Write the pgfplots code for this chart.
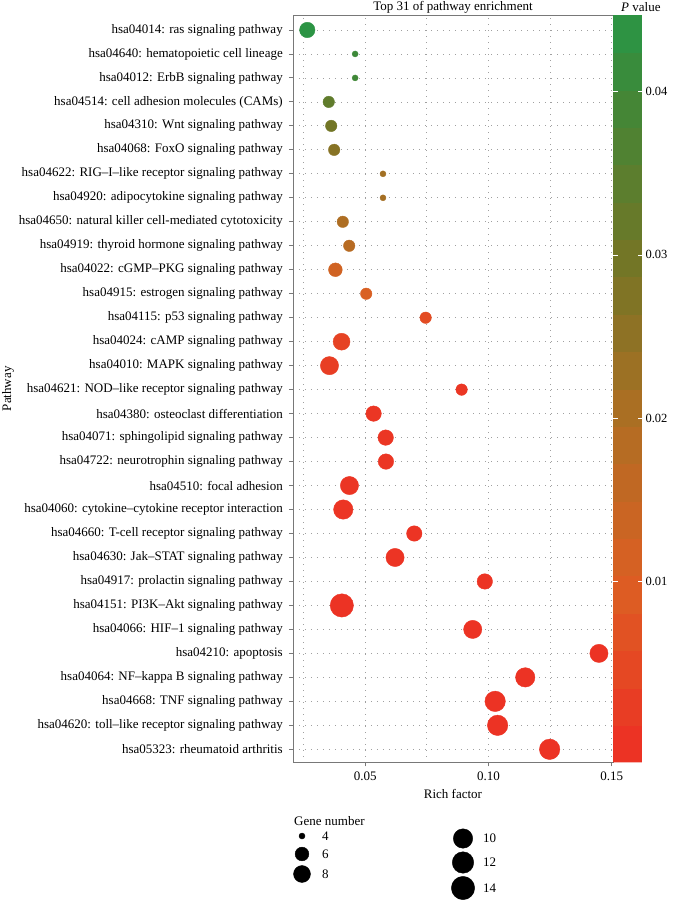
\documentclass[border=0pt]{standalone}
\usepackage{fontspec}
\setmainfont{Liberation Serif}
\usepackage{pgfplots}
\usepackage{pgfplotstable}
\pgfplotsset{compat=1.18}
\definecolor{framegray}{RGB}{120,120,120}
\definecolor{gridgray}{RGB}{160,160,160}
\pgfplotsset{colormap={pval}{rgb255(0cm)=(238,46,36) rgb255(11cm)=(220,95,35) rgb255(21cm)=(175,110,35) rgb255(31cm)=(115,118,38) rgb255(41cm)=(65,135,55) rgb255(46cm)=(40,150,70)}}
\pgfplotstableread{
y x n p
31 0.0265 7 0.0440
30 0.0459 4 0.0405
29 0.0459 4 0.0400
28 0.0352 5 0.0335
27 0.0362 5 0.0300
26 0.0374 5 0.0265
25 0.0572 4 0.0220
24 0.0572 4 0.0215
23 0.0409 5 0.0200
22 0.0435 5 0.0180
21 0.0379 6 0.0125
20 0.0504 5 0.0105
19 0.0745 5 0.0055
18 0.0404 8 0.0035
17 0.0355 9 0.0025
16 0.0891 5 0.0010
15 0.0534 7 0.0008
14 0.0583 7 0.0007
13 0.0584 7 0.0006
12 0.0436 9 0.0005
11 0.0411 10 0.0004
10 0.0699 7 0.0003
9 0.0621 9 0.0003
8 0.0985 7 0.0002
7 0.0405 14 0.0001
6 0.0936 9 0.0001
5 0.1448 9 0.00005
4 0.1149 10 0.00003
3 0.1027 11 0.00002
2 0.1037 11 0.00001
1 0.1248 11 0.00001
}\datatable
\pgfplotstableread{
x y n
302 836 4
302 854 6
302 874 8
463 838.5 10
463 862.5 12
463 888 14
}\legtable
\begin{document}
\begin{tikzpicture}
\path[use as bounding box] (0,0) rectangle (677pt,900pt);
\begin{axis}[
  name=main,
  scale only axis, width=320pt, height=747.5pt,
  at={(293pt,137.5pt)}, anchor=south west,
  font=\fontsize{13}{15}\selectfont,
  xmin=0.0207, xmax=0.1505,
  ymin=0.45, ymax=31.625,
  xtick={0.05,0.10,0.15},
  xticklabels={0.05,0.10,0.15},
  minor xtick={0.025,0.075,0.125},
  ytick={1,...,31},
  yticklabels={
    {hsa05323: rheumatoid arthritis},
    {hsa04620: toll–like receptor signaling pathway},
    {hsa04668: TNF signaling pathway},
    {hsa04064: NF–kappa B signaling pathway},
    {hsa04210: apoptosis},
    {hsa04066: HIF–1 signaling pathway},
    {hsa04151: PI3K–Akt signaling pathway},
    {hsa04917: prolactin signaling pathway},
    {hsa04630: Jak–STAT signaling pathway},
    {hsa04660: T-cell receptor signaling pathway},
    {hsa04060: cytokine–cytokine receptor interaction},
    {hsa04510: focal adhesion},
    {hsa04722: neurotrophin signaling pathway},
    {hsa04071: sphingolipid signaling pathway},
    {hsa04380: osteoclast differentiation},
    {hsa04621: NOD–like receptor signaling pathway},
    {hsa04010: MAPK signaling pathway},
    {hsa04024: cAMP signaling pathway},
    {hsa04115: p53 signaling pathway},
    {hsa04915: estrogen signaling pathway},
    {hsa04022: cGMP–PKG signaling pathway},
    {hsa04919: thyroid hormone signaling pathway},
    {hsa04650: natural killer cell-mediated cytotoxicity},
    {hsa04920: adipocytokine signaling pathway},
    {hsa04622: RIG–I–like receptor signaling pathway},
    {hsa04068: FoxO signaling pathway},
    {hsa04310: Wnt signaling pathway},
    {hsa04514: cell adhesion molecules (CAMs)},
    {hsa04012: ErbB signaling pathway},
    {hsa04640: hematopoietic cell lineage},
    {hsa04014: ras signaling pathway}},
  grid=both,
  major grid style={gridgray, line width=0.8pt, dash pattern=on 0.8pt off 5.2pt},
  minor grid style={gridgray, line width=0.8pt, dash pattern=on 0.8pt off 5.2pt},
  tick align=outside, tick pos=left,
  major tick length=4pt, minor tick length=0pt,
  tick style={framegray, line width=0.9pt},
  axis line style={framegray, line width=0.9pt},
  xticklabel style={yshift=-2pt},
  yticklabel style={xshift=-2.7pt},
  xlabel={Rich factor},
  xlabel style={at={(axis description cs:0.5,-0.0475)}, anchor=base},
  ylabel={Pathway},
  ylabel style={at={(axis description cs:-0.8906,0.5)}, anchor=center},
  colormap name=pval,
  point meta min=-0.0011, point meta max=0.0447,
  colorbar,
  colorbar sampled,
  colorbar style={
    samples=21,
    scale only axis,
    width=29pt, height=747.5pt,
    at={(1,1)}, anchor=north west, xshift=8.7pt,
    xtick=\empty, xticklabels={},
    ytick={0.01,0.02,0.03,0.04},
    yticklabels={0.01,0.02,0.03,0.04},
    ytick pos=both, yticklabel pos=right,
    tick align=inside,
    major tick length=4.5pt,
    tick style={white, line width=0.8pt},
    axis line style={draw=none},
    yticklabel style={font=\fontsize{12.5}{14}\selectfont},
  },
]
\addplot[scatter, only marks, mark=*, scatter src=explicit,
  scatter/use mapped color={draw=mapped color, fill=mapped color},
  visualization depends on={(6+17.3*sqrt((\thisrow{n}-4)/10))/2 \as \ms},
  scatter/@pre marker code/.append style={/tikz/mark size=\ms}]
  table[x=x, y=y, meta=p] {\datatable};
\end{axis}
\begin{axis}[
  hide axis, clip=false,
  scale only axis, width=677pt, height=900pt,
  at={(0pt,0pt)}, anchor=south west,
  xmin=0, xmax=677, ymin=0, ymax=900, y dir=reverse,
  font=\fontsize{13}{15}\selectfont,
]
\addplot[scatter, only marks, mark=*, point meta=\thisrow{n},
  scatter/use mapped color={draw=black, fill=black},
  visualization depends on={(6+17.3*sqrt((\thisrow{n}-4)/10))/2 \as \ms},
  scatter/@pre marker code/.append style={/tikz/mark size=\ms}]
  table[x=x, y=y] {\legtable};
\node[anchor=base, inner sep=0pt] at (axis cs:453,10.5) {Top 31 of pathway enrichment};
\node[anchor=base west, inner sep=0pt] at (axis cs:621,11) {\textit{P} value};
\node[anchor=base west, inner sep=0pt] at (axis cs:294,825) {Gene number};
\node[anchor=west, inner sep=0pt] at (axis cs:322,836) {4};
\node[anchor=west, inner sep=0pt] at (axis cs:322,854) {6};
\node[anchor=west, inner sep=0pt] at (axis cs:322,874) {8};
\node[anchor=west, inner sep=0pt] at (axis cs:483,838.5) {10};
\node[anchor=west, inner sep=0pt] at (axis cs:483,862.5) {12};
\node[anchor=west, inner sep=0pt] at (axis cs:483,888) {14};
\end{axis}
\end{tikzpicture}
\end{document}
